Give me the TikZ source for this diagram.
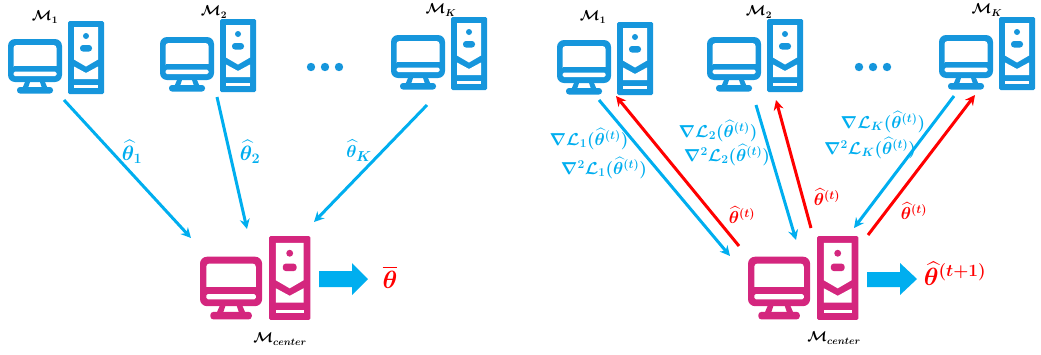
\documentclass[tikz,border=0pt]{standalone}
\usepackage{amsmath,amssymb,bm}
\usetikzlibrary{arrows.meta}
\definecolor{iconblue}{HTML}{1696DC}
\definecolor{iconpink}{HTML}{D4267E}
\definecolor{arrowblue}{HTML}{00AEEF}
\definecolor{arrowred}{HTML}{FF0000}
\tikzset{
  x=1pt,y=-1pt,
  wire/.style={line width=3pt,-{Stealth[length=10pt,width=10pt]}},
  bluewire/.style={wire,draw=arrowblue},
  redwire/.style={wire,draw=arrowred},
  bigarrow/.style={fill=arrowblue,draw=none},
  bluelab/.style={inner sep=0pt,text=arrowblue,font=\fontsize{17}{19}\selectfont},
  redlab/.style={inner sep=0pt,text=arrowred,font=\fontsize{18}{20}\selectfont},
  namelab/.style={inner sep=0pt,text=black,font=\fontsize{14}{16}\selectfont},
  pics/station/.style={code={
    % tower
    \fill[#1,rounded corners=1.5pt] (0,0) rectangle (36,73);
    \fill[white] (6,6) -- (30,6) -- (30,38.5) -- (18,45.5) -- (6,38.5) -- cycle;
    \fill[white] (6,45.5) -- (18,52) -- (30,45.5) -- (30,58) -- (6,58) -- cycle;
    \fill[white] (6,64) rectangle (30,67);
    \fill[#1] (18,15) circle (3);
    \fill[#1,rounded corners=3pt] (12,24) rectangle (24,30.5);
    % monitor
    \fill[#1,rounded corners=7pt] (-60,18) rectangle (-6,61);
    \fill[white,rounded corners=3pt] (-54.5,24) rectangle (-11.5,48) ;
    \fill[#1] (-54.5,44.5) rectangle (-11.5,48.5);
    \fill[white,rounded corners=1.5pt] (-54.5,50.5) rectangle (-11.5,55);
    \fill[#1] (-43,61) -- (-38,61) -- (-40,67) -- (-26,67) -- (-28,61) -- (-23,61) -- (-20,68) -- (-46,68) -- cycle;
    \fill[#1,rounded corners=3pt] (-51,66) rectangle (-15,72.5);
  }}
}
\newcommand{\hatth}{\widehat{\bm{\theta}}}
\begin{document}
\begin{tikzpicture}
\useasboundingbox (0,0) rectangle (1041,354);
% stations
\pic at (68,21) {station=iconblue};
\pic at (220,19) {station=iconblue};
\pic at (451,17) {station=iconblue};
\pic[scale=1.15] at (269,236) {station=iconpink};
\pic at (617,22) {station=iconblue};
\pic at (767,19) {station=iconblue};
\pic at (999,17) {station=iconblue};
\pic[scale=1.15] at (817,236) {station=iconpink};
% dots
\foreach \px in {311,325,339,859,873,887} \fill[iconblue] (\px,67) circle (4.2);
% names
\node[namelab] (la1) at (45,17) {$\bm{\mathcal{M}_1}$};
\node[namelab] (la2) at (214,12) {$\bm{\mathcal{M}_2}$};
\node[namelab] (la3) at (441,10) {$\bm{\mathcal{M}_K}$};
\node[namelab] (lac) at (280,339) {$\bm{\mathcal{M}_{center}}$};
\node[namelab] (lb1) at (593,17) {$\bm{\mathcal{M}_1}$};
\node[namelab] (lb2) at (759,12) {$\bm{\mathcal{M}_2}$};
\node[namelab] (lb3) at (987,10) {$\bm{\mathcal{M}_K}$};
\node[namelab] (lbc) at (834,338) {$\bm{\mathcal{M}_{center}}$};
% endpoints left
\coordinate (a1s) at (64,100); \coordinate (a1e) at (191,238);
\coordinate (a2s) at (217,97); \coordinate (a2e) at (247,229);
\coordinate (a3s) at (427,105); \coordinate (a3e) at (314,222);
\draw[bluewire] (a1s) -- (a1e);
\draw[bluewire] (a2s) -- (a2e);
\draw[bluewire] (a3s) -- (a3e);
% endpoints right
\coordinate (b1s) at (599,100); \coordinate (b1e) at (730,256);
\coordinate (r1s) at (739,246); \coordinate (r1e) at (616,96);
\coordinate (b2s) at (756,105); \coordinate (b2e) at (796,240);
\coordinate (r2s) at (811,228); \coordinate (r2e) at (776,100);
\coordinate (b3s) at (954,96); \coordinate (b3e) at (854,228);
\coordinate (r3s) at (868,235); \coordinate (r3e) at (975,95);
\draw[bluewire] (b1s) -- (b1e);
\draw[redwire] (r1s) -- (r1e);
\draw[bluewire] (b2s) -- (b2e);
\draw[redwire] (r2s) -- (r2e);
\draw[bluewire] (b3s) -- (b3e);
\draw[redwire] (r3s) -- (r3e);
% block arrows
\fill[bigarrow] (319,271) -- (352,271) -- (352,263) -- (368,279) -- (352,295) -- (352,287) -- (319,287) -- cycle;
\fill[bigarrow] (867,272) -- (900,272) -- (900,263) -- (917,279) -- (900,295) -- (900,287) -- (867,287) -- cycle;
% left labels
\node[bluelab,font=\fontsize{20}{22}\selectfont] (t1) at (132,152) {$\hatth_{\bm{1}}$};
\node[bluelab,font=\fontsize{20}{22}\selectfont] (t2) at (250,152) {$\hatth_{\bm{2}}$};
\node[bluelab,font=\fontsize{19}{21}\selectfont] (t3) at (359,151) {$\hatth_{\bm{K}}$};
\node[redlab,font=\fontsize{24}{26}\selectfont] (tbar) at (390,277) {$\overline{\bm{\theta}}$};
% right labels
\node[bluelab] (g1) at (589,139) {$\bm{\nabla\mathcal{L}_1(}\hatth^{\bm{(t)}}\bm{)}$};
\node[bluelab] (h1) at (604,168) {$\bm{\nabla^2\mathcal{L}_1(}\hatth^{\bm{(t)}}\bm{)}$};
\node[bluelab] (g2) at (718,131) {$\bm{\nabla\mathcal{L}_2(}\hatth^{\bm{(t)}}\bm{)}$};
\node[bluelab] (h2) at (727,155) {$\bm{\nabla^2\mathcal{L}_2(}\hatth^{\bm{(t)}}\bm{)}$};
\node[bluelab] (g3) at (883,122) {$\bm{\nabla\mathcal{L}_K(}\hatth^{\bm{(t)}}\bm{)}$};
\node[bluelab] (h3) at (870,148) {$\bm{\nabla^2\mathcal{L}_K(}\hatth^{\bm{(t)}}\bm{)}$};
\node[redlab] (p1) at (742,215) {$\hatth^{\bm{(t)}}$};
\node[redlab] (p2) at (827,197) {$\hatth^{\bm{(t)}}$};
\node[redlab] (p3) at (914,211) {$\hatth^{\bm{(t)}}$};
\node[redlab,font=\fontsize{23}{25}\selectfont] (pn) at (955,274) {$\hatth^{\bm{(t+1)}}$};
\end{tikzpicture}
\end{document}
